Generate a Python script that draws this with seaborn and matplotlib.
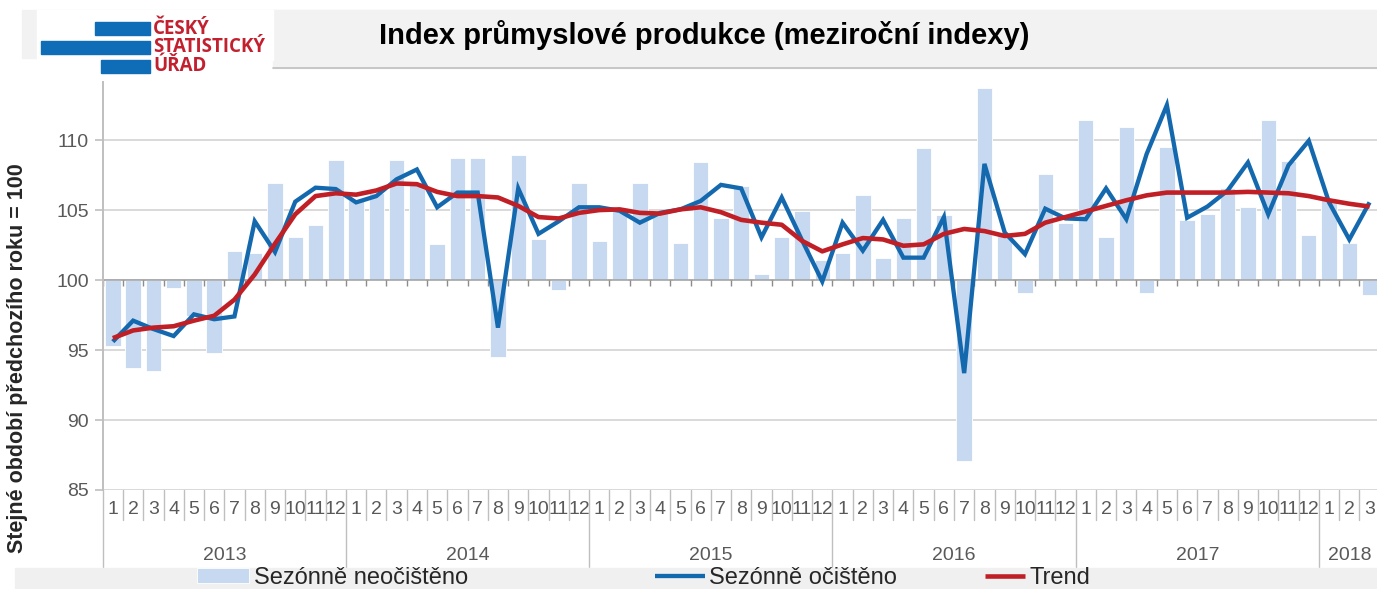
import numpy as np
import pandas as pd
import matplotlib
matplotlib.use("Agg")
import matplotlib.pyplot as plt
from matplotlib.patches import Rectangle
from matplotlib.lines import Line2D
import seaborn as sns

# ---------------- data ----------------
years = ["2013", "2014", "2015", "2016", "2017", "2018"]
months_per_year = [12, 12, 12, 12, 12, 3]

unadjusted = [
    95.3, 93.7, 93.5, 99.4, 97.45, 94.8, 102.1, 101.9, 106.9, 103.1, 103.9, 108.6,
    105.7, 106.2, 108.6, 107.0, 102.6, 108.7, 108.7, 94.5, 108.95, 102.9, 99.3, 106.95,
    102.8, 105.05, 106.9, 104.8, 102.65, 108.4, 104.4, 106.7, 100.4, 103.05, 104.95, 101.4,
    101.9, 106.1, 101.55, 104.4, 109.4, 104.65, 87.1, 113.7, 103.3, 99.05, 107.6, 104.1,
    111.4, 103.1, 110.95, 99.1, 109.5, 104.3, 104.75, 106.55, 105.2, 111.45, 108.5, 103.25,
    105.7, 102.65, 98.95,
]
seasonally_adjusted = [
    95.6, 97.1, 96.5, 96.0, 97.55, 97.2, 97.4, 104.2, 102.0, 105.6, 106.6, 106.5,
    105.55, 106.0, 107.2, 107.9, 105.2, 106.25, 106.25, 96.6, 106.55, 103.3, 104.2, 105.2,
    105.2, 104.95, 104.1, 104.8, 105.05, 105.65, 106.8, 106.55, 103.05, 105.9, 102.85, 99.9,
    104.1, 102.1, 104.3, 101.6, 101.6, 104.5, 93.35, 108.3, 103.4, 101.85, 105.1, 104.4,
    104.35, 106.55, 104.35, 109.0, 112.5, 104.45, 105.25, 106.4, 108.4, 104.7, 108.2, 109.95,
    105.55, 102.9, 105.55,
]
trend = [
    95.85, 96.4, 96.6, 96.7, 97.1, 97.45, 98.6, 100.4, 102.6, 104.7, 106.0, 106.2,
    106.1, 106.4, 106.9, 106.85, 106.3, 106.0, 106.0, 105.9, 105.3, 104.5, 104.4, 104.8,
    105.0, 105.05, 104.8, 104.75, 105.05, 105.2, 104.85, 104.3, 104.1, 103.95, 102.8, 102.05,
    102.55, 103.0, 102.9, 102.45, 102.55, 103.3, 103.65, 103.5, 103.15, 103.3, 104.1, 104.5,
    104.9, 105.3, 105.7, 106.05, 106.25, 106.25, 106.25, 106.25, 106.3, 106.25, 106.2, 106.0,
    105.7, 105.45, 105.25,
]
ytick_values = [85, 90, 95, 100, 105, 110]
baseline = 100

title = "Index průmyslové produkce (meziroční indexy)"
ylabel = "Stejné období předchozího roku = 100"
legend_labels = ["Sezónně neočištěno", "Sezónně očištěno", "Trend"]
logo_lines = ["ČESKÝ", "STATISTICKÝ", "ÚŘAD"]

month_labels = [str(m + 1) for n in months_per_year for m in range(n)]
df = pd.DataFrame({
    "idx": np.arange(len(month_labels)),
    "month": month_labels,
    "unadj": unadjusted,
    "sa": seasonally_adjusted,
    "trend": trend,
})

# ---------------- style ----------------
sns.set_style("white")
plt.rcParams["font.family"] = ["Liberation Sans", "DejaVu Sans"]

W, H = 1377, 589
fig = plt.figure(figsize=(W / 100, H / 100), dpi=100)


def fx(x):
    return x / W


def fy(y):
    return 1 - y / H


ax = fig.add_axes([fx(102.7), fy(490), 1277 / W, 408 / H])

BAR_C = "#c6d9f0"
BLUE = "#1469ae"
RED = "#c01f26"
GRID = "#d9d9d9"
TXT = "#595959"

# gridlines
for v in ytick_values:
    ax.axhline(v, color=GRID, lw=1.4, zorder=0)

# bars from baseline 100
ax.bar(df["idx"], df["unadj"] - baseline, bottom=baseline, width=0.76,
       color=BAR_C, edgecolor="white", linewidth=0.6, zorder=1,
       label=legend_labels[0])

# category axis at 100
ax.axhline(baseline, color="#a0a0a0", lw=1.1, zorder=1.5)
bounds = np.arange(-0.5, len(df), 1.0)
ax.vlines(bounds, baseline - 0.45, baseline, color="#8c8c8c", lw=1.0, zorder=1.5)

sns.lineplot(data=df, x="idx", y="sa", ax=ax, color=BLUE, lw=3.1,
             label=legend_labels[1], zorder=3,
             solid_joinstyle="miter", solid_capstyle="butt")
sns.lineplot(data=df, x="idx", y="trend", ax=ax, color=RED, lw=3.3,
             label=legend_labels[2], zorder=4,
             solid_joinstyle="round", solid_capstyle="butt")
if ax.get_legend() is not None:
    ax.get_legend().remove()

ax.set_xlim(-0.5, len(df) - 0.5)
ax.set_ylim(85, 114.15)
ax.set_yticks(ytick_values)
ax.set_yticklabels([str(v) for v in ytick_values], fontsize=14, color=TXT)
ax.tick_params(axis="y", length=6, width=1.2, color="#bfbfbf", pad=4, left=True)
ax.set_xticks(df["idx"])
ax.set_xticklabels(df["month"], fontsize=14, color=TXT)
ax.tick_params(axis="x", length=0, pad=8)
ax.set_xlabel("")
ax.set_ylabel("")
for s in ["top", "right", "bottom"]:
    ax.spines[s].set_visible(False)
ax.spines["left"].set_color("#bfbfbf")
ax.spines["left"].set_linewidth(1.4)

# multi-level category separators and year labels
tr = ax.get_xaxis_transform()
year_starts = np.cumsum([0] + months_per_year[:-1])
year_bounds = set(list(year_starts - 0.5))
for b in bounds:
    low = -77 / 408 if b in year_bounds else -30 / 408
    ax.plot([b, b], [0, low], transform=tr, color="#bfbfbf", lw=1.0, clip_on=False)
for yr, s, n in zip(years, year_starts, months_per_year):
    ax.text(s + (n - 1) / 2, -65 / 408, yr, transform=tr, ha="center", va="center",
            fontsize=14, color=TXT)

# y label
fig.text(fx(18), fy(358), ylabel, rotation=90, ha="center", va="center",
         fontsize=15.5, fontweight="bold", color="#262626")

# title band and logo
fig.patches.append(Rectangle((fx(22), fy(58)), fx(1377 - 22), 48 / H,
                             transform=fig.transFigure, color="#f2f2f2", zorder=0))
fig.patches.append(Rectangle((fx(273), fy(68)), fx(1377 - 273), 58 / H,
                             transform=fig.transFigure, color="#f2f2f2", zorder=0))
fig.patches.append(Rectangle((fx(37), fy(60)), fx(273 - 37), 50 / H,
                             transform=fig.transFigure, color="white", zorder=0.5))
fig.lines.append(Line2D([fx(273), fx(1377)], [fy(68), fy(68)],
                        transform=fig.transFigure, color="#bfbfbf", lw=1.2))
LOGO_BLUE = "#0f6cb6"
for (x0, x1, y0, y1) in [(95, 150, 22, 35), (41, 150, 41, 54), (101, 150, 60, 73)]:
    fig.patches.append(Rectangle((fx(x0), fy(y1)), fx(x1 - x0), (y1 - y0) / H,
                                 transform=fig.transFigure, color=LOGO_BLUE, zorder=1))
for txt, yy in zip(logo_lines, [29, 47, 66]):
    fig.text(fx(153), fy(yy), txt, ha="left", va="center", fontsize=13.5,
             fontweight="bold", color="#c3202f", family=["Open Sans", "DejaVu Sans"])

fig.text(fx(704), fy(35), title, ha="center", va="center", fontsize=21,
         fontweight="bold", color="black")

# legend band
fig.patches.append(Rectangle((fx(15), fy(589)), fx(1377 - 15), 21 / H,
                             transform=fig.transFigure, color="#f0f0f0", zorder=0))
handles, labels = ax.get_legend_handles_labels()
hmap = dict(zip(labels, handles))
leg_pos = [(197, 2.2), (655, 2.1), (985, 1.7)]
for lab, (xpos, hl) in zip(legend_labels, leg_pos):
    fig.legend([hmap[lab]], [lab], loc="center left",
               bbox_to_anchor=(fx(xpos), fy(578)), frameon=False, fontsize=17,
               handlelength=hl, handletextpad=0.2, borderpad=0, borderaxespad=0,
               handleheight=0.6)

fig.savefig("out.png", dpi=100)
